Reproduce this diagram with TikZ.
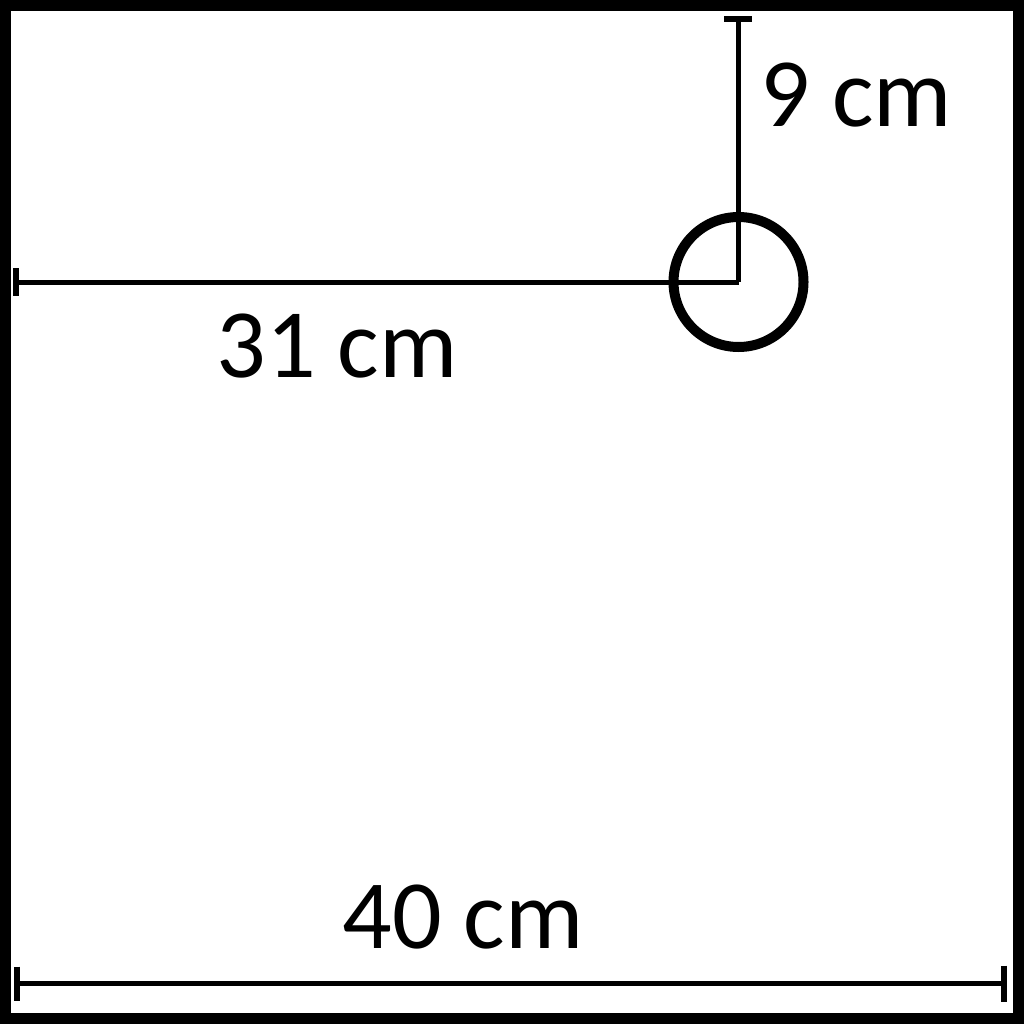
\documentclass[tikz,border=0pt]{standalone}
\usepackage{fontspec}
\setmainfont{Carlito}
\begin{document}
\begin{tikzpicture}[x=1pt,y=-1pt,
  dim/.style={line width=5pt},
  capline/.style={line width=6pt},
  lbl/.style={anchor=base,inner sep=0pt,font=\fontsize{98}{110}\selectfont}]
\useasboundingbox (0,0) rectangle (1024,1024);
\draw[line width=11pt] (5.5,5.5) rectangle (1018.5,1018);
% circle
\node (c) [circle,draw,line width=10pt,minimum size=130pt,inner sep=0pt] at (738.5,282) {};
\coordinate (ctr) at (738.5,282);
% vertical dimension
\coordinate (vt) at (738.5,19);
\draw[dim] (vt) -- (ctr);
\draw[capline] (724,19) -- (752,19);
% horizontal dimension
\coordinate (hl) at (16,282);
\draw[dim] (hl) -- (ctr);
\draw[capline] (16,268) -- (16,296);
% bottom dimension
\coordinate (bl) at (16.5,983.5);
\coordinate (br) at (1003.5,983.5);
\draw[dim] (bl) -- (br);
\draw[capline] (bl) ++(0,-17) -- ++(0,34);
\draw[capline] (br) ++(0,-18) -- ++(0,36);
% labels
\node[lbl] (l9) at (856,127) {9 cm};
\node[lbl] (l31) at (337,377) {31 cm};
\node[lbl] (l40) at (463,948) {40 cm};
\end{tikzpicture}
\end{document}
